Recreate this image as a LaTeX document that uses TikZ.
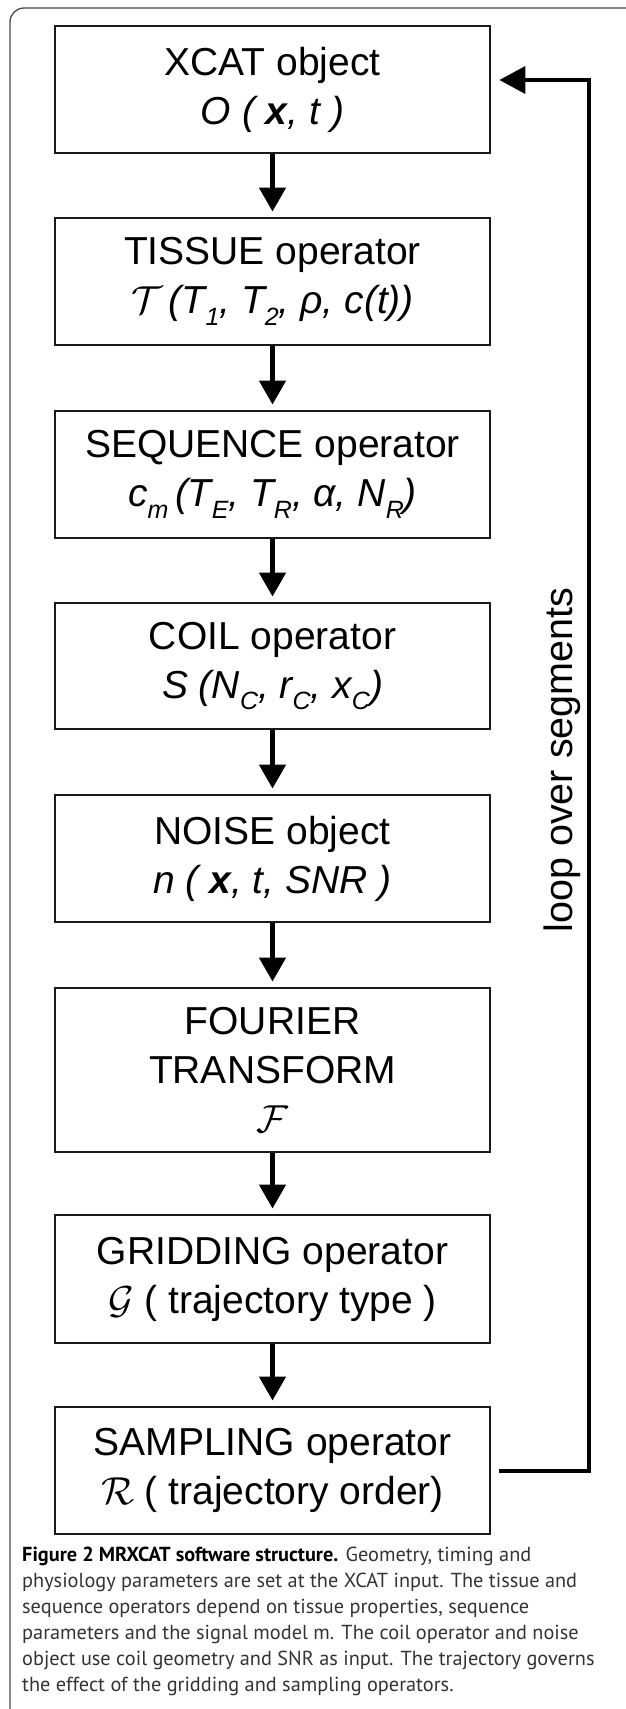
\RequirePackage{fix-cm}
\documentclass[tikz,border=0pt]{standalone}
\usepackage{fontspec}
\setmainfont{Liberation Sans}
\newfontfamily\capfont{PT Sans}
\usetikzlibrary{arrows.meta}
\newcommand\lsb[1]{\raisebox{-0.3em}{\fontsize{25}{25}\selectfont #1}}
\tikzset{
  box/.style={draw=black!90, line width=2.8pt, minimum width=435pt, align=center,
    inner sep=0pt, font=\fontsize{39}{49}\selectfont},
  flow/.style={line width=4.5pt, -{Triangle[length=24pt,width=26pt]}, shorten >=5pt},
  loopline/.style={line width=4pt, -{Triangle[length=26pt,width=27pt]}},
  frame/.style={draw=black!70, line width=1.3pt, rounded corners=14pt},
}
\begin{document}
\begin{tikzpicture}[x=1pt,y=-1pt]
\useasboundingbox (0,0) rectangle (625,1709);
\draw[frame] (10,1715) -- (10,8) -- (632,8);
\node[box, minimum height=127pt] (b1) at (272.5,89.5) {XCAT object\\ \itshape O ( \textbf{x}, t )};
\node[box, minimum height=127pt] (b2) at (272.5,281.5) {TISSUE operator\\ \itshape $\mathcal{T}$\,(T\lsb{1}, T\lsb{2}, ρ, c(t))};
\node[box, minimum height=127pt] (b3) at (272.5,474.5) {SEQUENCE operator\\ \itshape c\lsb{m}\,(T\lsb{E}, T\lsb{R}, α, N\lsb{R})};
\node[box, minimum height=126pt] (b4) at (272.5,666) {COIL operator\\ \itshape S (N\lsb{C}, r\lsb{C}, x\lsb{C})};
\node[box, minimum height=127pt] (b5) at (272.5,858.5) {NOISE object\\ \itshape n ( \textbf{x}, t, SNR )};
\node[box, minimum height=164pt] (b6) at (272.5,1070) {FOURIER\\ TRANSFORM\\ $\mathcal{F}$};
\node[box, minimum height=128pt] (b7) at (272.5,1279) {GRIDDING operator\\ $\mathcal{G}$ ( trajectory type )};
\node[box, minimum height=127pt] (b8) at (272.5,1470.5) {SAMPLING operator\\ $\mathcal{R}$ ( trajectory order)};
\draw[flow] (b1) -- (b2);
\draw[flow] (b2) -- (b3);
\draw[flow] (b3) -- (b4);
\draw[flow] (b4) -- (b5);
\draw[flow] (b5) -- (b6);
\draw[flow] (b6) -- (b7);
\draw[flow] (b7) -- (b8);
\coordinate (top) at (589,80);
\draw[loopline] ([xshift=8pt]b8.east) -| (top) -- ([xshift=8pt]b1.east |- top);
\node[rotate=90, anchor=base, font=\fontsize{39.5}{40}\selectfont] (loop) at (572,760) {loop over segments};
\node[anchor=base west, align=left, inner sep=0pt, text=black!80,
  font=\capfont\fontsize{20.3}{26}\selectfont] (cap) at (22,1691)
  {{\bfseries\color{black}Figure 2 MRXCAT software structure.} Geometry, timing and\\
   physiology parameters are set at the XCAT input. The tissue and\\
   sequence operators depend on tissue properties, sequence\\
   parameters and the signal model m. The coil operator and noise\\
   object use coil geometry and SNR as input. The trajectory governs\\
   the effect of the gridding and sampling operators.};
\end{tikzpicture}
\end{document}
